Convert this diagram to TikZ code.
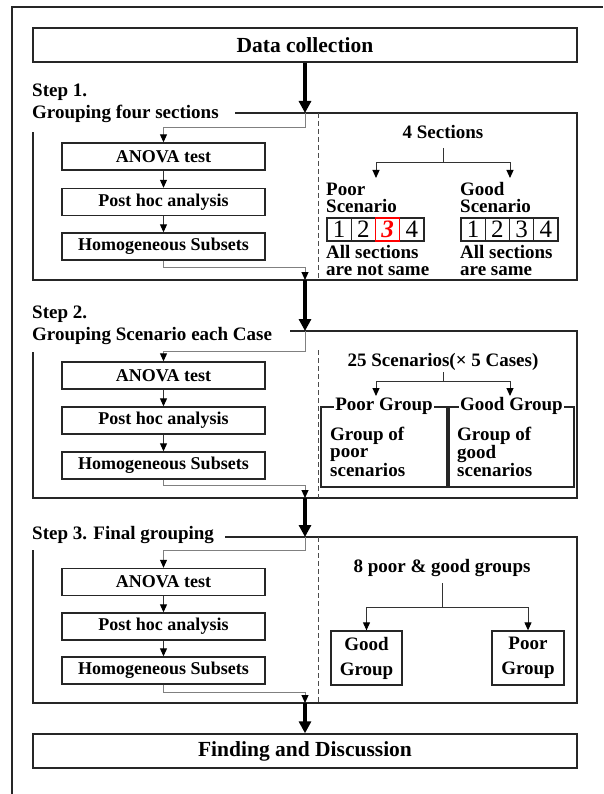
\documentclass[tikz,border=0pt]{standalone}
\usepackage{fontspec}
\setmainfont{Liberation Serif}
\usetikzlibrary{arrows.meta,calc}
\begin{document}
\begin{tikzpicture}[x=1pt,y=-1pt,
  bigbox/.style={draw=black!85, line width=1.4pt, minimum width=544pt, minimum height=34pt, inner sep=0pt, font=\fontsize{21.5}{24}\selectfont\bfseries},
  pbox/.style={draw=black!85, line width=1.4pt, minimum width=203pt, minimum height=27pt, inner sep=0pt, font=\fontsize{18}{20}\selectfont\bfseries},
  steplbl/.style={anchor=base west, inner sep=0pt, font=\fontsize{19}{21}\selectfont\bfseries},
  frame/.style={draw=black!85, line width=1.3pt},
  divider/.style={draw=black!70, line width=0.8pt, dash pattern=on 5pt off 3pt},
  fatarrow/.style={draw=black, line width=4pt, -{Triangle[length=12pt,width=12pt]}},
  garrow/.style={draw=black!50, line width=1pt, -{Triangle[length=8pt,width=7pt,black]}},
  sarrow/.style={draw=black!80, line width=1pt, -{Triangle[length=8pt,width=7pt,black]}},
  sline/.style={draw=black!80, line width=1pt},
  txt/.style={inner sep=0pt, font=\fontsize{19}{17}\selectfont\bfseries, align=left},
  cell/.style={draw=black!85, line width=1.2pt, minimum width=24.25pt, minimum height=23pt, inner sep=0pt, font=\fontsize{25}{25}\selectfont\mdseries},
  gbox/.style={draw=black!85, line width=1.3pt, inner sep=0pt},
  gtitle/.style={fill=white, inner xsep=1pt, inner ysep=0pt, font=\fontsize{19}{21}\selectfont\bfseries},
]
\useasboundingbox (0,0) rectangle (603,794);

% outer frame
\draw[frame] (12,794) -- (12,7) -- (603,7);

\node[bigbox] (dc) at (305,45) {Data collection};
\node[bigbox] (fd) at (305,751) {Finding and Discussion};

% ---------------- Step 1
\node[steplbl] (s1a) at (32,97) {Step 1.};
\node[steplbl] (s1b) at (32,119) {Grouping four sections};
\coordinate (j1) at (305,113);
\coordinate (k1) at (305,128);
\coordinate (m1) at (305,267);
\coordinate (b1) at (305,280);
\draw[frame] (235,113) -- (577,113) -- (577,280) -- (33,280) -- (33,132);
\draw[divider] (318,113) -- (318,280);
\node[pbox] (a1) at (163.5,156.5) {ANOVA test};
\node[pbox] (p1) at (163.5,202) {Post hoc analysis};
\node[pbox] (h1) at (163.5,246.5) {Homogeneous Subsets};
\draw[sarrow] (a1) -- (p1);
\draw[sarrow] (p1) -- (h1);
\draw[fatarrow] (dc) -- (j1);
\draw[garrow] (j1) -- (k1) -| (a1.north);
\draw[garrow] (h1.south) |- (m1) -- (b1);

\node[txt] (sec) at (443,132) {4 Sections};
\coordinate (t1) at (443,148);
\coordinate (t1h) at (443,163);
\coordinate (t1l) at (376,178);
\coordinate (t1r) at (510,178);
\draw[sline] (t1) -- (t1h);
\draw[sarrow] (t1h) -| (t1l);
\draw[sarrow] (t1h) -| (t1r);
\node[txt, anchor=west] (ps) at (326,198) {Poor\\Scenario};
\node[txt, anchor=west] (gs) at (460,198) {Good\\Scenario};
\node[cell] (pc1) at (339.1,229.5) {1};
\node[cell] (pc2) at (363.4,229.5) {2};
\node[cell] (pc4) at (411.9,229.5) {4};
\node[cell, draw=red, text=red, font=\fontsize{25}{25}\selectfont\bfseries\itshape] (pc3) at (387.6,229.5) {3};
\node[cell] (gc1) at (473.1,229.5) {1};
\node[cell] (gc2) at (497.4,229.5) {2};
\node[cell] (gc3) at (521.6,229.5) {3};
\node[cell] (gc4) at (545.9,229.5) {4};
\node[txt, anchor=west] (pn) at (326,261) {All sections\\are not same};
\node[txt, anchor=west] (gn) at (460,261) {All sections\\are same};

% ---------------- Step 2
\node[steplbl] (s2a) at (32,318) {Step 2.};
\node[steplbl] (s2b) at (32,340) {Grouping Scenario each Case};
\coordinate (j2) at (305,331);
\coordinate (k2) at (305,351);
\coordinate (m2) at (305,485);
\coordinate (b2) at (305,498);
\draw[frame] (290,331) -- (577,331) -- (577,498) -- (33,498) -- (33,352);
\draw[divider] (318,350) -- (318,498);
\node[pbox] (a2) at (163.5,375.5) {ANOVA test};
\node[pbox] (p2) at (163.5,420.5) {Post hoc analysis};
\node[pbox] (h2) at (163.5,465.5) {Homogeneous Subsets};
\draw[sarrow] (a2) -- (p2);
\draw[sarrow] (p2) -- (h2);
\draw[fatarrow] (b1) -- (j2);
\draw[garrow] (j2) -- (k2) -| (a2.north);
\draw[garrow] (h2.south) |- (m2) -- (b2);

\node[txt] (sc) at (443,362) {25 Scenarios(× 5 Cases)};
\coordinate (t2) at (443,372);
\coordinate (t2h) at (443,381);
\coordinate (t2l) at (376,396);
\coordinate (t2r) at (510,396);
\draw[sline] (t2) -- (t2h);
\draw[sarrow] (t2h) -| (t2l);
\draw[sarrow] (t2h) -| (t2r);
\node[gbox, minimum width=126pt, minimum height=80pt] (pg) at (384,447) {};
\node[gbox, minimum width=125pt, minimum height=80pt] (gg) at (511.5,447) {};
\node[gtitle] (pgt) at (pg.north) {Poor Group};
\node[gtitle] (ggt) at (gg.north) {Good Group};
\node[txt, anchor=west] (pgx) at (330,452) {Group of\\poor\\scenarios};
\node[txt, anchor=west] (ggx) at (457,452) {Group of\\good\\scenarios};

% ---------------- Step 3
\node[steplbl] (s3a) at (32,539) {Step 3. Final grouping};
\coordinate (j3) at (305,537);
\coordinate (k3) at (305,550);
\coordinate (m3) at (305,692);
\coordinate (b3) at (305,703);
\draw[frame] (225,537) -- (577,537) -- (577,703) -- (33,703) -- (33,550);
\draw[divider] (318,537) -- (318,703);
\node[pbox] (a3) at (163.5,582) {ANOVA test};
\node[pbox] (p3) at (163.5,626.5) {Post hoc analysis};
\node[pbox] (h3) at (163.5,670.5) {Homogeneous Subsets};
\draw[sarrow] (a3) -- (p3);
\draw[sarrow] (p3) -- (h3);
\draw[fatarrow] (b2) -- (j3);
\draw[garrow] (j3) -- (k3) -| (a3.north);
\draw[garrow] (h3.south) |- (m3) -- (b3);
\draw[fatarrow] (b3) -- (fd);

\node[txt] (eg) at (442,568) {8 poor \& good groups};
\coordinate (t3) at (442,583);
\coordinate (t3h) at (442,607);
\node[gbox, minimum width=71pt, minimum height=54pt, align=center, font=\fontsize{19}{25}\selectfont\bfseries] (fg) at (366.5,658) {Good\\Group};
\node[gbox, minimum width=72pt, minimum height=54pt, align=center, font=\fontsize{19}{25}\selectfont\bfseries] (fp) at (528,658) {Poor\\Group};
\draw[sline] (t3) -- (t3h);
\draw[sarrow] (t3h) -| (fg.north);
\draw[sarrow] (t3h) -| (fp.north);
\end{tikzpicture}
\end{document}
